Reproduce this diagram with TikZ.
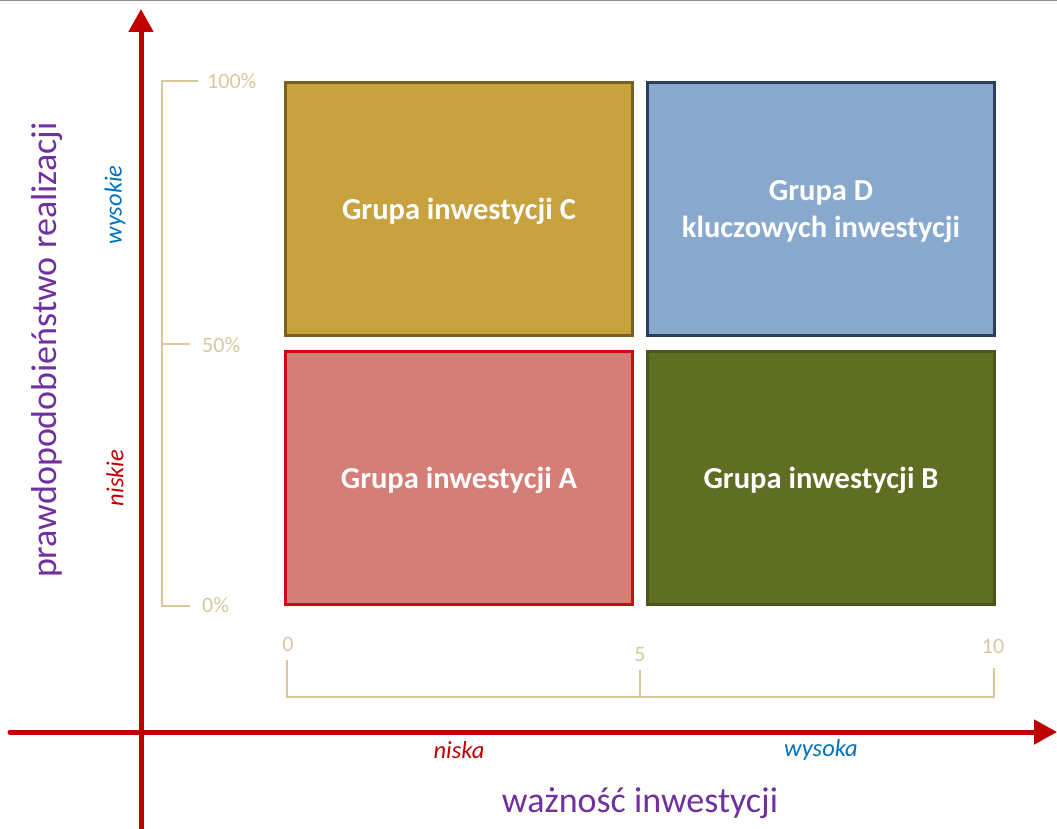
\documentclass[tikz,border=0pt]{standalone}
\usepackage{fontspec}
\setmainfont{Carlito}
\usetikzlibrary{arrows.meta}
\definecolor{axred}{HTML}{C00000}
\definecolor{tanc}{HTML}{D9C89C}
\definecolor{purp}{HTML}{7030A0}
\definecolor{lblue}{HTML}{0070C0}
\definecolor{cfill}{HTML}{C8A23F}
\definecolor{cdraw}{HTML}{7A6020}
\definecolor{dfill}{HTML}{88A9CD}
\definecolor{ddraw}{HTML}{2B3F5C}
\definecolor{afill}{HTML}{D57D77}
\definecolor{adraw}{HTML}{CC0A14}
\definecolor{bfill}{HTML}{5F6E22}
\definecolor{bdraw}{HTML}{4A5718}
\tikzset{
  quad/.style={draw, line width=3pt, minimum width=347pt, minimum height=253pt, inner sep=0pt, text=white, font=\fontsize{30.5}{37}\selectfont\bfseries, align=center, text depth=0pt},
  axisline/.style={draw=axred, line width=5pt, -{Triangle[length=23pt,width=24pt]}},
  scaleline/.style={draw=tanc, line width=2.2pt},
  scalelbl/.style={text=tanc, font=\fontsize{22}{26}\selectfont, inner sep=0pt},
  small/.style={font=\fontsize{24.5}{28}\selectfont\itshape, inner sep=0pt},
  big/.style={text=purp, font=\fontsize{36}{42}\selectfont, inner sep=0pt}
}
\begin{document}
\begin{tikzpicture}[x=1pt,y=-1pt]
\useasboundingbox (0,0) rectangle (1057,829);
\draw[gray!90, line width=2pt] (0,0.5) -- (1057,0.5);
% quadrants
\node[quad, fill=cfill, draw=cdraw] (C) at (459,209) {Grupa inwestycji C};
\node[quad, fill=dfill, draw=ddraw] (D) at (821,209) {Grupa D\\kluczowych inwestycji};
\node[quad, fill=afill, draw=adraw] (A) at (459,478) {Grupa inwestycji A};
\node[quad, fill=bfill, draw=bdraw] (B) at (821,478) {Grupa inwestycji B};
% axes
\coordinate (yb) at (141,829);
\coordinate (yt) at (141,9);
\coordinate (xl) at (10,732);
\coordinate (xr) at (1057,732);
\draw[axisline] (yb) -- (yt);
\draw[axisline, line cap=round] (xl) -- (xr);
% left scale
\draw[scaleline] (198,81) -- (162,81) -- (162,606) -- (190,606);
\draw[scaleline] (162,344) -- (190,344);
\node[scalelbl, anchor=west] (p100) at (207,81) {100\%};
\node[scalelbl, anchor=west] (p50) at (202,345) {50\%};
\node[scalelbl, anchor=west] (p0) at (202,605) {0\%};
% bottom scale
\draw[scaleline] (287,660) -- (287,697) -- (994,697) -- (994,668);
\draw[scaleline] (640,670) -- (640,697);
\node[scalelbl] (s0) at (288,644) {0};
\node[scalelbl] (s5) at (640,655) {5};
\node[scalelbl] (s10) at (993,646) {10};
% labels
\node[big, rotate=90] (ylab) at (47,350) {prawdopodobieństwo realizacji};
\node[big] (xlab) at (640,803) {ważność inwestycji};
\node[small, text=lblue, rotate=90] (wysokie) at (115,205) {wysokie};
\node[small, text=axred, rotate=90] (niskie) at (115,478) {niskie};
\node[small, text=axred] (niska) at (459,750) {niska};
\node[small, text=lblue] (wysoka) at (821,750) {wysoka};
\end{tikzpicture}
\end{document}
